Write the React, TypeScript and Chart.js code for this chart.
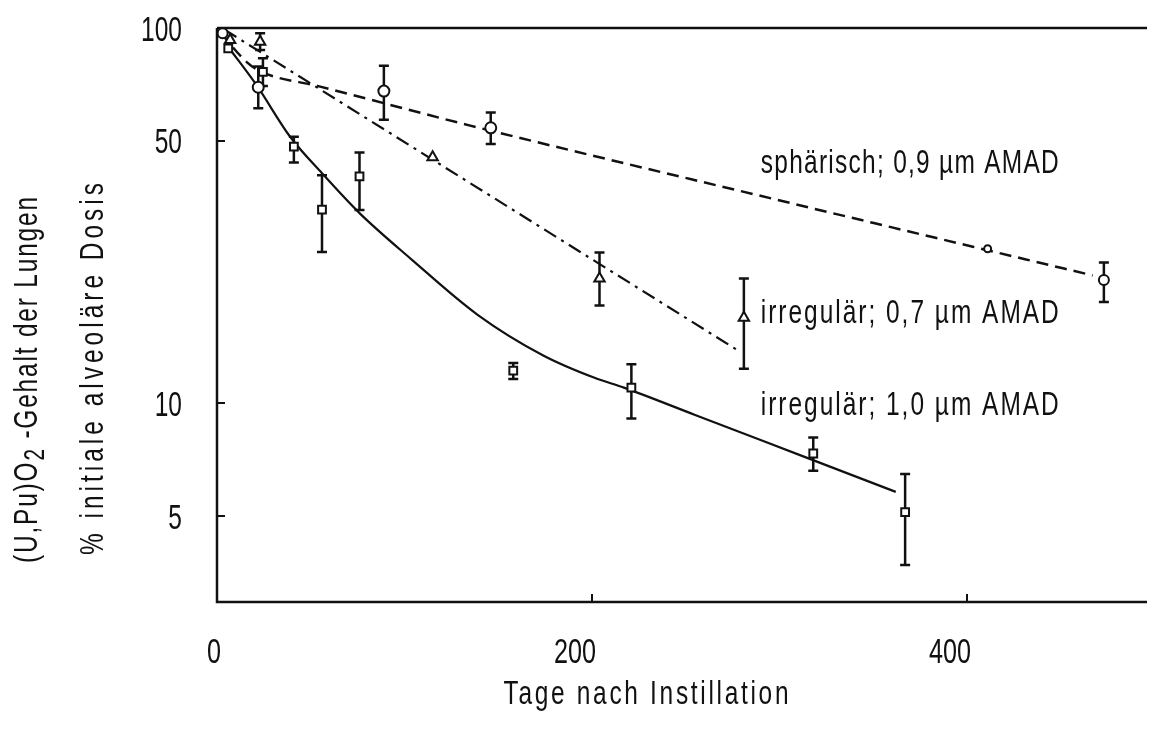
import { useEffect, useRef } from 'react';
import { Chart, registerables } from 'chart.js';

Chart.register(...registerables);

// ---------- data ----------
// spherical, 0.9 µm AMAD (open circles)
const sphDays = [3, 22, 89, 146, 411, 473];
const sphVals = [96.8, 69.5, 67.9, 54.2, 25.8, 21.3];
const sphLow = [null, 61.1, 56.9, 49.1, null, 18.6];
const sphHigh = [null, 78.9, 79.3, 59.5, null, 23.7];

// irregular, 0.7 µm AMAD (open triangles)
const irr07Days = [7, 23, 115, 204, 281];
const irr07Vals = [92.9, 91.9, 45.2, 21.5, 16.9];
const irr07Low = [null, 87.4, null, 18.2, 12.35];
const irr07High = [null, 96.8, null, 25.2, 21.5];

// irregular, 1.0 µm AMAD (open squares)
const irr10Days = [6, 24.5, 41, 56, 76, 158, 221, 318, 367];
const irr10Vals = [88.2, 76.4, 48.3, 32.8, 40.2, 12.2, 11.0, 7.34, 5.12];
const irr10Low = [null, 70, 43.8, 25.3, 32.7, 11.6, 9.1, 6.6, 3.7];
const irr10High = [null, 83, 51.3, 40.5, 46.6, 12.8, 12.7, 8.1, 6.47];

// fitted curves
const fitSphDays = [2, 16, 24, 54, 134, 299, 467];
const fitSphVals = [97, 81, 76.3, 70, 55.1, 34.8, 21.9];
const fit07Days = [4, 279];
const fit07Vals = [99, 13.7];
const fit10Days = [6, 21, 39, 56, 76, 104, 139, 174, 201, 217, 255, 313, 362];
const fit10Vals = [89, 70.5, 51.3, 41.0, 32.1, 24.1, 17.2, 13.4, 11.7, 11.0, 9.3, 7.2, 5.8];

// axes
const xTicks = [0, 200, 400];
const yTicks = [100, 50, 10, 5];
const xMin = 0;
const xMax = 496;
const yMin = 2.95;
const yMax = 100;

// texts
const xTitle = 'Tage nach Instillation';
const yTitle1 = ['(U,Pu)O', '2', ' -Gehalt der Lungen'];
const yTitle2 = '% initiale alveoläre Dosis';
const curveLabels = ['sphärisch; 0,9 µm AMAD', 'irregulär; 0,7 µm AMAD', 'irregulär; 1,0 µm AMAD'];

// ---------- drawing helpers ----------
const FONT = '"Liberation Sans", "DejaVu Sans", Arial, sans-serif';
const INK = '#111';

type Seg = { t: string; k?: number; dy?: number };
type TextOpts = { size: number; sx: number; align: 'left' | 'right' | 'center'; rotate?: boolean; width?: number };

function drawText(ctx: CanvasRenderingContext2D, segs: Seg[], x: number, y: number, o: TextOpts) {
  ctx.save();
  ctx.translate(x, y);
  if (o.rotate) ctx.rotate(-Math.PI / 2);
  ctx.scale(o.sx, 1);
  ctx.fillStyle = INK;
  ctx.textBaseline = 'alphabetic';
  ctx.textAlign = 'left';
  const anyCtx = ctx as any;
  const hasLS = 'letterSpacing' in anyCtx;
  if (hasLS) anyCtx.letterSpacing = '0px';
  const fontFor = (s: Seg) => `${o.size * (s.k ?? 1)}px ${FONT}`;
  let nat = 0;
  let n = 0;
  const widths: number[] = [];
  for (const s of segs) {
    ctx.font = fontFor(s);
    const w = ctx.measureText(s.t).width;
    widths.push(w);
    nat += w;
    n += Array.from(s.t).length;
  }
  let ls = 0;
  if (o.width && n > 1) ls = (o.width / o.sx - nat) / (n - 1);
  const total = nat + ls * (n - 1);
  let cx = o.align === 'right' ? -total : o.align === 'center' ? -total / 2 : 0;
  segs.forEach((s, i) => {
    ctx.font = fontFor(s);
    const dy = (s.dy ?? 0) * o.size;
    const chars = Array.from(s.t);
    if (hasLS || ls === 0) {
      if (hasLS) anyCtx.letterSpacing = `${ls}px`;
      ctx.fillText(s.t, cx, dy);
      cx += widths[i] + ls * chars.length;
    } else {
      for (const ch of chars) {
        ctx.fillText(ch, cx, dy);
        cx += ctx.measureText(ch).width + ls;
      }
    }
  });
  if (hasLS) anyCtx.letterSpacing = '0px';
  ctx.restore();
}

const decorPlugin = {
  id: 'decor',
  beforeDatasetsDraw(chart: any) {
    const { ctx, chartArea: a } = chart;
    const xs = chart.scales.x;
    const ys = chart.scales.y;
    ctx.save();
    ctx.strokeStyle = INK;
    ctx.lineWidth = 2.5;
    ctx.lineCap = 'butt';
    ctx.beginPath();
    // frame: left, bottom, top
    ctx.moveTo(a.left, a.top);
    ctx.lineTo(a.left, a.bottom);
    ctx.lineTo(a.right, a.bottom);
    ctx.moveTo(a.left, a.top);
    ctx.lineTo(a.right, a.top);
    ctx.stroke();
    // inward tick marks
    ctx.lineWidth = 2;
    ctx.beginPath();
    for (const v of yTicks) {
      const py = ys.getPixelForValue(v);
      if (Math.abs(py - a.top) < 2 || Math.abs(py - a.bottom) < 2) continue;
      ctx.moveTo(a.left, py);
      ctx.lineTo(a.left + 8, py);
    }
    for (const v of xTicks) {
      const px = xs.getPixelForValue(v);
      if (Math.abs(px - a.left) < 2) continue;
      ctx.moveTo(px, a.bottom);
      ctx.lineTo(px, a.bottom - 8);
    }
    ctx.stroke();
    ctx.restore();
  },
  beforeDatasetDraw(chart: any, args: any) {
    const ds = chart.data.datasets[args.index];
    if (!ds.errLow) return;
    const ctx = chart.ctx;
    const xs = chart.scales.x;
    const ys = chart.scales.y;
    ctx.save();
    ctx.strokeStyle = INK;
    ctx.lineWidth = 2.5;
    ds.data.forEach((p: any, i: number) => {
      const lo = ds.errLow[i];
      const hi = ds.errHigh[i];
      if (lo == null || hi == null) return;
      const px = xs.getPixelForValue(p.x);
      const y1 = ys.getPixelForValue(hi);
      const y2 = ys.getPixelForValue(lo);
      ctx.beginPath();
      ctx.moveTo(px, y1);
      ctx.lineTo(px, y2);
      ctx.moveTo(px - 5, y1);
      ctx.lineTo(px + 5, y1);
      ctx.moveTo(px - 5, y2);
      ctx.lineTo(px + 5, y2);
      ctx.stroke();
    });
    ctx.restore();
  },
  afterDraw(chart: any) {
    const { ctx, chartArea: a } = chart;
    const xs = chart.scales.x;
    const ys = chart.scales.y;
    // y tick labels
    for (const v of yTicks) {
      const py = ys.getPixelForValue(v);
      drawText(ctx, [{ t: String(v) }], a.left - 35, py + 12.5, { size: 35, sx: 0.7, align: 'right' });
    }
    // x tick labels
    for (const v of xTicks) {
      const px = xs.getPixelForValue(v);
      drawText(ctx, [{ t: String(v) }], px + 4, a.bottom + 61, { size: 35, sx: 0.72, align: 'right' });
    }
    // x title
    drawText(ctx, [{ t: xTitle }], 646, 704, { size: 34, sx: 0.72, align: 'center', width: 285 });
    // y titles (rotated)
    drawText(
      ctx,
      [{ t: yTitle1[0] }, { t: yTitle1[1], k: 0.85, dy: 0.22 }, { t: yTitle1[2] }],
      37,
      380,
      { size: 34, sx: 0.72, align: 'center', rotate: true, width: 366 }
    );
    drawText(ctx, [{ t: yTitle2 }], 103, 369, { size: 34, sx: 0.72, align: 'center', rotate: true, width: 372 });
    // curve labels (anchored in data coordinates)
    const lx = xs.getPixelForValue(290);
    const anchors = [41.1, 16.4, 9.29];
    curveLabels.forEach((t, i) => {
      drawText(ctx, [{ t }], lx, ys.getPixelForValue(anchors[i]), { size: 34, sx: 0.72, align: 'left', width: 298 });
    });
  },
};

const pts = (xs: number[], ys: number[]) => xs.map((x, i) => ({ x, y: ys[i] }));

export default function App() {
  const ref = useRef<HTMLCanvasElement | null>(null);

  useEffect(() => {
    if (!ref.current) return;
    const markerBase = {
      showLine: false,
      borderColor: INK,
      backgroundColor: '#fff',
      pointBorderColor: INK,
      pointBackgroundColor: '#fff',
      pointBorderWidth: 2,
      clip: false as const,
    };
    const lineBase = {
      showLine: true,
      pointRadius: 0,
      borderColor: INK,
      backgroundColor: INK,
      fill: false,
      clip: false as const,
    };
    const chart = new Chart(ref.current, {
      type: 'scatter',
      data: {
        datasets: [
          {
            ...markerBase,
            label: 'sphärisch; 0,9 µm AMAD',
            data: pts(sphDays, sphVals),
            pointStyle: 'circle',
            pointRadius: [5, 5.5, 5.5, 5.5, 3.5, 5],
            errLow: sphLow,
            errHigh: sphHigh,
          } as any,
          {
            ...markerBase,
            label: 'irregulär; 0,7 µm AMAD',
            data: pts(irr07Days, irr07Vals),
            pointStyle: 'triangle',
            pointRadius: 6,
            errLow: irr07Low,
            errHigh: irr07High,
          } as any,
          {
            ...markerBase,
            label: 'irregulär; 1,0 µm AMAD',
            data: pts(irr10Days, irr10Vals),
            pointStyle: 'rect',
            pointRadius: 5.5,
            errLow: irr10Low,
            errHigh: irr10High,
          } as any,
          {
            ...lineBase,
            label: 'Anpassung sphärisch 0,9 µm',
            data: pts(fitSphDays, fitSphVals),
            borderWidth: 2.5,
            borderDash: [12, 7],
            cubicInterpolationMode: 'monotone',
          } as any,
          {
            ...lineBase,
            label: 'Anpassung irregulär 0,7 µm',
            data: pts(fit07Days, fit07Vals),
            borderWidth: 2.2,
            borderDash: [14, 6, 3, 6],
          } as any,
          {
            ...lineBase,
            label: 'Anpassung irregulär 1,0 µm',
            data: pts(fit10Days, fit10Vals),
            borderWidth: 2.2,
            cubicInterpolationMode: 'monotone',
          } as any,
        ],
      },
      options: {
        animation: false,
        responsive: false,
        maintainAspectRatio: false,
        devicePixelRatio: 1,
        layout: { padding: { left: 217, top: 28, right: 0, bottom: 134 } },
        plugins: { legend: { display: false }, tooltip: { enabled: false } },
        events: [],
        scales: {
          x: { type: 'linear', min: xMin, max: xMax, display: false },
          y: { type: 'logarithmic', min: yMin, max: yMax, display: false },
        },
      },
      plugins: [decorPlugin as any],
    });
    return () => chart.destroy();
  }, []);

  return (
    <div style={{ position: 'absolute', left: 0, top: 0, width: 1155, height: 736, background: '#fff' }}>
      <canvas ref={ref} width={1155} height={736} style={{ display: 'block' }} />
    </div>
  );
}
